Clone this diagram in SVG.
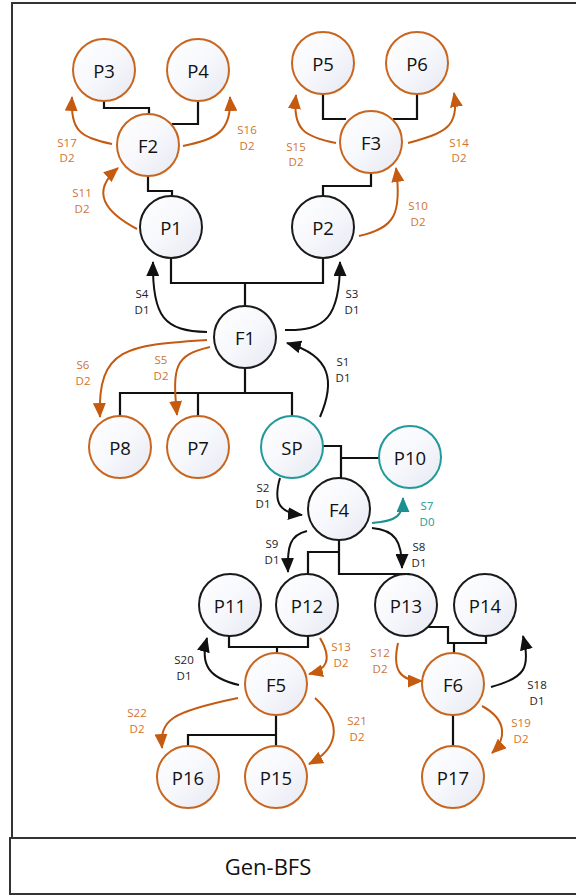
<svg xmlns="http://www.w3.org/2000/svg" width="576" height="896" viewBox="0 0 576 896">
<defs>
<linearGradient id="nf" x1="0" y1="0" x2="1" y2="1">
<stop offset="0" stop-color="#ffffff"/>
<stop offset="0.5" stop-color="#f7f8fc"/>
<stop offset="1" stop-color="#e6e8f2"/>
</linearGradient>
<marker id="ab" viewBox="0 0 15 13" markerWidth="15" markerHeight="13" refX="14" refY="6.5" orient="auto" markerUnits="userSpaceOnUse"><path d="M0,0 L15,6.5 L0,13 z" fill="#111"/></marker>
<marker id="ao" viewBox="0 0 15 13" markerWidth="15" markerHeight="13" refX="14" refY="6.5" orient="auto" markerUnits="userSpaceOnUse"><path d="M0,0 L15,6.5 L0,13 z" fill="#C55A11"/></marker>
<marker id="at" viewBox="0 0 15 13" markerWidth="15" markerHeight="13" refX="14" refY="6.5" orient="auto" markerUnits="userSpaceOnUse"><path d="M0,0 L15,6.5 L0,13 z" fill="#1C9090"/></marker>
</defs>
<style>
.n{fill:url(#nf);stroke-width:2}
.nb{stroke:#1a1a1a}
.no{stroke:#C8651F}
.nt{stroke:#22999A}
.lbl{font-family:"Open Sans","Noto Sans",sans-serif;font-size:18.5px;fill:#111;text-anchor:middle;dominant-baseline:central}
.tree{fill:none;stroke:#111;stroke-width:2.2}
.ar{fill:none;stroke-width:2}
.ab{stroke:#111;marker-end:url(#ab)}
.ao{stroke:#C55A11;marker-end:url(#ao)}
.at{stroke:#1C9090;marker-end:url(#at)}
.el{font-family:"Open Sans","Noto Sans",sans-serif;font-size:11.5px;text-anchor:middle;dominant-baseline:central}
.eb{fill:#222}
.eo{fill:#D07330}
.et{fill:#1C9A9A}
.frame{fill:none;stroke:#333;stroke-width:2}
</style>
<rect x="0" y="0" width="576" height="896" fill="#fff"/>
<g id="frame">
<path class="frame" d="M12,838 L12,3 L577,3"/>
<rect class="frame" x="10" y="838" width="570" height="56"/>
<text x="268" y="866" font-family="'Open Sans','Noto Sans',sans-serif" font-size="22" fill="#111" text-anchor="middle" dominant-baseline="central">Gen-BFS</text>
</g>
<g id="connectors">
<path class="tree" d="M104,101 V108 H149 V114"/>
<path class="tree" d="M198,101 V124 H172"/>
<path class="tree" d="M148,176 V191 H172 V196"/>
<path class="tree" d="M323,94 V119 H346"/>
<path class="tree" d="M417,94 V119 H393"/>
<path class="tree" d="M371,173 V186 H323 V196"/>
<path class="tree" d="M171,258 V283 H323 V258 M245,283 V306"/>
<path class="tree" d="M245,368 V393 M120,416 V393 H292 V416 M198,393 V416"/>
<path class="tree" d="M323,446 H341 V478 M341,458 H379"/>
<path class="tree" d="M339,540 V574 H410 M339,552 H308 V574"/>
<path class="tree" d="M229,636 V647 H308 V636 M277,647 V653"/>
<path class="tree" d="M276,715 V735 H188 V746 M276,735 V746"/>
<path class="tree" d="M428,627 H448 V643 H486 V636 M454,643 V653"/>
<path class="tree" d="M453,715 V746"/>
<path class="ar ao" d="M112,144 C80,137 70,131 72,97"/>
<path class="ar ao" d="M183,146 C215,139 232,133 230,97"/>
<path class="ar ao" d="M137,229 C105,212 90,192 118,168"/>
<path class="ar ao" d="M336,143 C305,137 292,130 296,95"/>
<path class="ar ao" d="M408,143 C445,133 460,127 454,93"/>
<path class="ar ao" d="M359,236 C395,228 402,214 396,168"/>
<path class="ar ab" d="M207,332 C165,331 152,318 153,262"/>
<path class="ar ab" d="M285,330 C325,331 340,318 340,262"/>
<path class="ar ao" d="M207,340 C130,345 97,346 100,417"/>
<path class="ar ao" d="M210,347 C175,355 172,366 177,415"/>
<path class="ar ab" d="M320,417 C335,382 332,356 287,343"/>
<path class="ar ab" d="M280,478 C272,505 282,513 302,515"/>
<path class="ar at" d="M372,523 C398,521 403,515 403,498"/>
<path class="ar ab" d="M307,531 C290,535 287,546 288,572"/>
<path class="ar ab" d="M372,528 C395,530 402,541 402,568"/>
<path class="ar ab" d="M239,685 C208,678 200,664 207,638"/>
<path class="ar ao" d="M320,638 C333,660 326,670 309,674"/>
<path class="ar ao" d="M238,698 C170,712 160,720 162,748"/>
<path class="ar ao" d="M315,698 C345,725 336,750 309,764"/>
<path class="ar ao" d="M398,643 C392,670 400,681 422,681"/>
<path class="ar ab" d="M491,687 C525,678 531,668 523,636"/>
<path class="ar ao" d="M482,706 C508,720 506,740 492,753"/>
<text class="el eo" x="67" y="142">S17</text><text class="el eo" x="67" y="157">D2</text>
<text class="el eo" x="247" y="129">S16</text><text class="el eo" x="247" y="145">D2</text>
<text class="el eo" x="82" y="192">S11</text><text class="el eo" x="82" y="208">D2</text>
<text class="el eo" x="296" y="146">S15</text><text class="el eo" x="296" y="161">D2</text>
<text class="el eo" x="459" y="142">S14</text><text class="el eo" x="459" y="157">D2</text>
<text class="el eo" x="418" y="205">S10</text><text class="el eo" x="418" y="221">D2</text>
<text class="el eb" x="142" y="293">S4</text><text class="el eb" x="142" y="309">D1</text>
<text class="el eb" x="352" y="293">S3</text><text class="el eb" x="352" y="309">D1</text>
<text class="el eo" x="83" y="364">S6</text><text class="el eo" x="83" y="380">D2</text>
<text class="el eo" x="161" y="359">S5</text><text class="el eo" x="161" y="375">D2</text>
<text class="el eb" x="343" y="361">S1</text><text class="el eb" x="343" y="377">D1</text>
<text class="el eb" x="263" y="487">S2</text><text class="el eb" x="263" y="503">D1</text>
<text class="el et" x="427" y="505">S7</text><text class="el et" x="427" y="521">D0</text>
<text class="el eb" x="272" y="543">S9</text><text class="el eb" x="272" y="559">D1</text>
<text class="el eb" x="419" y="546">S8</text><text class="el eb" x="419" y="562">D1</text>
<text class="el eb" x="184" y="659">S20</text><text class="el eb" x="184" y="675">D1</text>
<text class="el eo" x="341" y="646">S13</text><text class="el eo" x="341" y="662">D2</text>
<text class="el eo" x="137" y="712">S22</text><text class="el eo" x="137" y="728">D2</text>
<text class="el eo" x="357" y="720">S21</text><text class="el eo" x="357" y="736">D2</text>
<text class="el eo" x="380" y="652">S12</text><text class="el eo" x="380" y="668">D2</text>
<text class="el eb" x="537" y="684">S18</text><text class="el eb" x="537" y="700">D1</text>
<text class="el eo" x="521" y="722">S19</text><text class="el eo" x="521" y="738">D2</text>
</g>
<g id="P3"><circle class="n no" cx="104" cy="70" r="31"/><text class="lbl" x="104" y="70">P3</text></g>
<g id="P4"><circle class="n no" cx="198" cy="70" r="31"/><text class="lbl" x="198" y="70">P4</text></g>
<g id="F2"><circle class="n no" cx="148" cy="145" r="31"/><text class="lbl" x="148" y="145">F2</text></g>
<g id="P1"><circle class="n nb" cx="171" cy="227" r="31"/><text class="lbl" x="171" y="227">P1</text></g>
<g id="P5"><circle class="n no" cx="323" cy="63" r="31"/><text class="lbl" x="323" y="63">P5</text></g>
<g id="P6"><circle class="n no" cx="417" cy="63" r="31"/><text class="lbl" x="417" y="63">P6</text></g>
<g id="F3"><circle class="n no" cx="371" cy="142" r="31"/><text class="lbl" x="371" y="142">F3</text></g>
<g id="P2"><circle class="n nb" cx="323" cy="227" r="31"/><text class="lbl" x="323" y="227">P2</text></g>
<g id="F1"><circle class="n nb" cx="245" cy="337" r="31"/><text class="lbl" x="245" y="337">F1</text></g>
<g id="P8"><circle class="n no" cx="120" cy="447" r="31"/><text class="lbl" x="120" y="447">P8</text></g>
<g id="P7"><circle class="n no" cx="198" cy="447" r="31"/><text class="lbl" x="198" y="447">P7</text></g>
<g id="SP"><circle class="n nt" cx="292" cy="447" r="31"/><text class="lbl" x="292" y="447">SP</text></g>
<g id="P10"><circle class="n nt" cx="410" cy="457" r="31"/><text class="lbl" x="410" y="457">P10</text></g>
<g id="F4"><circle class="n nb" cx="339" cy="509" r="31"/><text class="lbl" x="339" y="509">F4</text></g>
<g id="P11"><circle class="n nb" cx="230" cy="605" r="31"/><text class="lbl" x="230" y="605">P11</text></g>
<g id="P12"><circle class="n nb" cx="307" cy="605" r="31"/><text class="lbl" x="307" y="605">P12</text></g>
<g id="P13"><circle class="n nb" cx="406" cy="605" r="31"/><text class="lbl" x="406" y="605">P13</text></g>
<g id="P14"><circle class="n nb" cx="485" cy="605" r="31"/><text class="lbl" x="485" y="605">P14</text></g>
<g id="F5"><circle class="n no" cx="276" cy="684" r="31"/><text class="lbl" x="276" y="684">F5</text></g>
<g id="F6"><circle class="n no" cx="453" cy="684" r="31"/><text class="lbl" x="453" y="684">F6</text></g>
<g id="P16"><circle class="n no" cx="188" cy="777" r="31"/><text class="lbl" x="188" y="777">P16</text></g>
<g id="P15"><circle class="n no" cx="276" cy="777" r="31"/><text class="lbl" x="276" y="777">P15</text></g>
<g id="P17"><circle class="n no" cx="453" cy="777" r="31"/><text class="lbl" x="453" y="777">P17</text></g>
</svg>
